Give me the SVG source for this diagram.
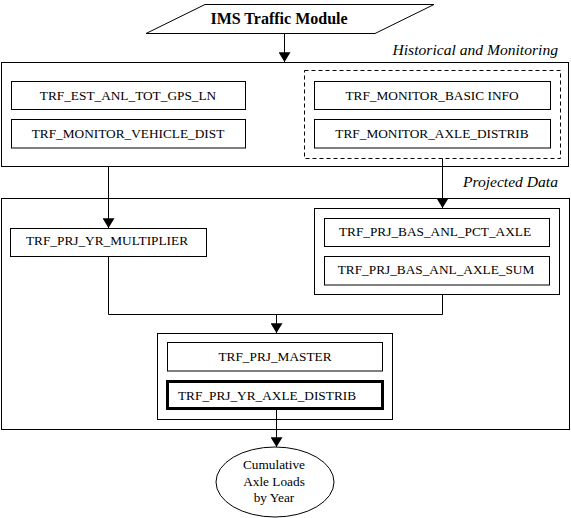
<svg xmlns="http://www.w3.org/2000/svg" width="571" height="518" viewBox="0 0 571 518">
<style>
.b{fill:#fff;stroke:#000;stroke-width:1}
.t{font-family:'Liberation Serif','Times New Roman','DejaVu Serif',serif;font-size:13.3px;fill:#000;text-anchor:middle}
.lbl{font-family:'Liberation Serif','Times New Roman','DejaVu Serif',serif;font-size:15.6px;font-style:italic;fill:#000;text-anchor:end}
.ims{font-family:'Liberation Serif','Times New Roman','DejaVu Serif',serif;font-size:16px;font-weight:bold;fill:#000;text-anchor:middle}
.c{fill:none;stroke:#000;stroke-width:1}
</style>
<defs>
<marker id="ah" markerUnits="userSpaceOnUse" markerWidth="10" markerHeight="12" refX="9" refY="5.5" orient="auto" viewBox="0 0 9 11">
<path d="M0,0 L9,5.5 L0,11 Z" fill="#000"/>
</marker>
</defs>
<rect width="571" height="518" fill="#fff"/>

<g id="ims">
<polygon class="b" points="205,4.5 434,4.5 375,33.5 146,33.5"/>
<text class="ims" x="279" y="24">IMS Traffic Module</text>
</g>

<g id="historical">
<rect class="b" x="1.5" y="62.5" width="567" height="104"/>
<text class="lbl" x="558" y="55">Historical and Monitoring</text>
</g>
<g id="est">
<rect class="b" x="11.5" y="81.5" width="234" height="28"/>
<text class="t" x="128" y="100">TRF_EST_ANL_TOT_GPS_LN</text>
</g>
<g id="vehicle">
<rect class="b" x="11.5" y="119.5" width="234" height="28.5"/>
<text class="t" x="128" y="138">TRF_MONITOR_VEHICLE_DIST</text>
</g>
<g id="monitor-group">
<rect x="304.5" y="70.5" width="256" height="88" fill="none" stroke="#000" stroke-width="1" stroke-dasharray="4,3"/>
</g>
<g id="basic">
<rect class="b" x="314.5" y="81.5" width="236" height="28"/>
<text class="t" x="432" y="100">TRF_MONITOR_BASIC INFO</text>
</g>
<g id="axle-distrib">
<rect class="b" x="314.5" y="119.5" width="236" height="28.5"/>
<text class="t" x="432" y="138">TRF_MONITOR_AXLE_DISTRIB</text>
</g>

<g id="projected">
<rect class="b" x="1.5" y="198.5" width="568" height="231"/>
<text class="lbl" x="558" y="187">Projected Data</text>
</g>
<g id="multiplier">
<rect class="b" x="10.5" y="228.5" width="196" height="28"/>
<text class="t" x="107" y="244.5">TRF_PRJ_YR_MULTIPLIER</text>
</g>
<g id="bas-group">
<rect class="b" x="314.5" y="208.5" width="245" height="86"/>
</g>
<g id="pct">
<rect class="b" x="324.5" y="218.5" width="225" height="28"/>
<text class="t" x="435" y="236">TRF_PRJ_BAS_ANL_PCT_AXLE</text>
</g>
<g id="sum">
<rect class="b" x="324.5" y="256.5" width="225" height="28.5"/>
<text class="t" x="436" y="274">TRF_PRJ_BAS_ANL_AXLE_SUM</text>
</g>
<g id="master-group">
<rect class="b" x="157.5" y="333.5" width="235" height="86"/>
</g>
<g id="master">
<rect class="b" x="167.5" y="342.5" width="215" height="28.5"/>
<text class="t" x="275" y="361">TRF_PRJ_MASTER</text>
</g>
<g id="yr-axle">
<rect x="167.5" y="381.5" width="215" height="27" fill="#fff" stroke="#000" stroke-width="3"/>
<text class="t" x="178" y="400" style="text-anchor:start">TRF_PRJ_YR_AXLE_DISTRIB</text>
</g>
<g id="cumulative">
<ellipse class="b" cx="275" cy="482" rx="59" ry="35"/>
<text class="t" x="274" y="469">Cumulative</text>
<text class="t" x="274" y="485.5">Axle Loads</text>
<text class="t" x="274" y="501.5">by Year</text>
</g>

<g id="connectors">
<path class="c" d="M284.5,33.5 V62" marker-end="url(#ah)"/>
<path class="c" d="M108.5,166.5 V228" marker-end="url(#ah)"/>
<path class="c" d="M442.5,158.5 V208" marker-end="url(#ah)"/>
<path class="c" d="M108.5,256.5 V314.5 H442.5 V294.5"/>
<path class="c" d="M276.5,314.5 V333" marker-end="url(#ah)"/>
<path class="c" d="M276.5,410 V447" marker-end="url(#ah)"/>
</g>
</svg>
